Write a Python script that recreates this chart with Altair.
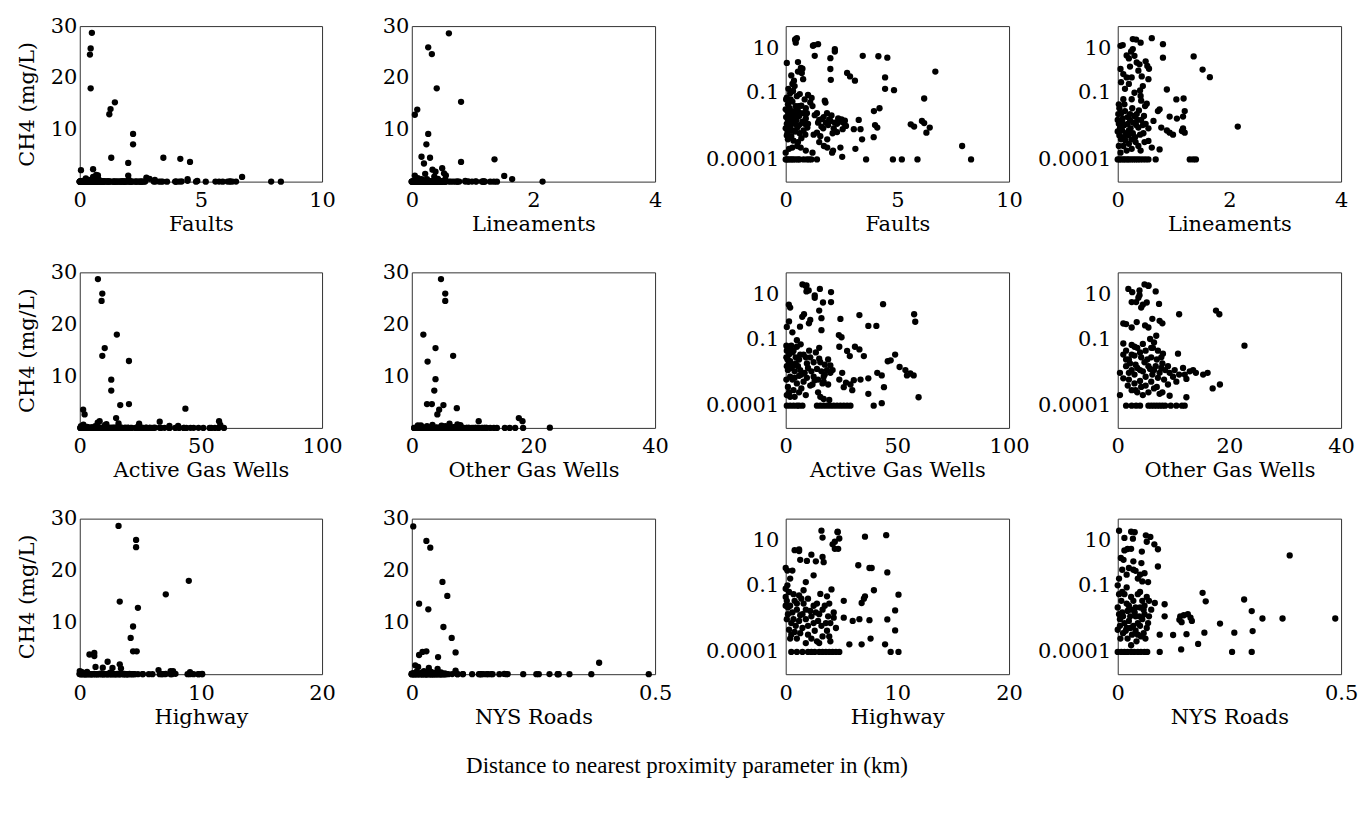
import altair as alt
import pandas as pd

FONT = "DejaVu Serif"
TITLE_FONT = "Liberation Serif"

LIN_Y_DOMAIN = [0, 30]
LIN_Y_TICKS = [10, 20, 30]
LOG_Y_DOMAIN = [0.00001, 100]
LOG_Y_TICKS = [0.0001, 0.1, 10]
Y_TITLE = "CH4 (mg/L)"
MAIN_TITLE = "Distance to nearest proximity parameter in (km)"

# (distance km, CH4 mg/L)
FAULTS = [
    (0.50, 28.7), (0.45, 25.7), (0.42, 24.5), (0.45, 18.0), (1.22, 13.0), (1.27, 14.0), (1.45, 15.3),
    (2.20, 9.2), (2.20, 7.2), (1.30, 4.6), (2.00, 3.6), (3.45, 4.6), (4.15, 4.4), (4.55, 3.8),
    (0.05, 2.2), (0.55, 2.4), (0.68, 1.3), (0.75, 1.2), (2.00, 1.17), (6.70, 0.9),
    (0.72, 0.78), (0.78, 0.41), (0.37, 0.35), (0.30, 0.25), (2.02, 0.38), (2.75, 0.78), (2.88, 0.54),
    (3.10, 0.35), (4.45, 0.49), (4.45, 0.15), (4.85, 0.13), (0.25, 0.6), (0.55, 0.9),
    (0.20, 0.095), (0.22, 0.05), (0.05, 0.06), (1.16, 0.058), (1.10, 0.036), (1.75, 0.044), (1.78, 0.036),
    (6.20, 0.055), (4.20, 0.020), (3.95, 0.015), (0.63, 0.087), (0.70, 0.026), (0.10, 0.030), (0.30, 0.040),
    (0.45, 0.025), (0.55, 0.015), (0.80, 0.012), (0.90, 0.020), (0.00, 0.018), (0.08, 0.015), (0.22, 0.012),
    (0.45, 0.010), (1.30, 0.0098), (0.60, 0.009), (1.70, 0.008), (1.95, 0.0063), (2.00, 0.0054),
    (2.50, 0.0063), (2.60, 0.0043), (2.70, 0.0032), (2.55, 0.0023), (3.27, 0.006), (4.00, 0.0035),
    (4.10, 0.0027), (5.60, 0.0038), (5.75, 0.0030), (6.10, 0.0054), (6.20, 0.0043), (6.45, 0.0027),
    (6.30, 0.0016), (0.00, 0.0025), (0.08, 0.0016), (0.30, 0.0020), (0.52, 0.0027), (0.80, 0.0020),
    (0.97, 0.0027), (1.40, 0.0016), (1.55, 0.0011), (3.05, 0.0023), (3.35, 0.0023), (3.94, 0.0010),
    (0.10, 0.006), (0.25, 0.0045), (0.40, 0.004), (0.60, 0.0035), (0.75, 0.005), (0.05, 0.004),
    (0.20, 0.0028), (1.00, 0.004), (1.60, 0.003), (1.80, 0.0045), (1.90, 0.0035), (2.20, 0.0045),
    (2.30, 0.004), (1.50, 0.006), (1.45, 0.0045), (2.40, 0.005), (0.35, 0.008), (0.15, 0.01), (0.90, 0.007),
    (1.50, 0.0006), (1.86, 0.0008), (3.42, 0.0008), (3.12, 0.0003), (1.71, 0.0004), (1.86, 0.00034),
    (2.08, 0.0002), (2.12, 0.00025), (2.45, 0.00034), (2.53, 0.00013), (0.00, 0.0002), (0.15, 0.0003),
    (0.30, 0.00034), (0.52, 0.0004), (0.67, 0.00034), (0.90, 0.00025), (1.20, 0.0002), (7.90, 0.0004),
    (0.70, 0.0009), (0.10, 0.0008), (0.35, 0.0007), (1.25, 0.0013), (2.10, 0.0015), (2.30, 0.0017),
    (0.02, 0.05), (0.12, 0.012), (0.18, 0.02), (0.28, 0.007), (0.38, 0.015), (0.48, 0.006), (0.58, 0.025),
    (0.65, 0.012), (0.85, 0.004), (0.95, 0.012), (0.02, 0.008), (0.15, 0.002), (0.42, 0.0018),
    (0.62, 0.0015), (0.88, 0.0013), (0.05, 0.0012), (0.25, 0.0011), (0.55, 0.0006), (1.62, 0.0065),
    (1.68, 0.0025), (2.15, 0.0025), (2.35, 0.007), (2.65, 0.0055), (1.85, 0.012), (2.05, 0.0095),
    (1.40, 0.012), (1.20, 0.025), (0.33, 0.12), (0.40, 0.2), (0.12, 0.15), (0.50, 0.07), (0.85, 0.05),
    (1.00, 0.08),
    (0.00, 0.0001), (0.05, 0.0001), (0.12, 0.0001), (0.20, 0.0001), (0.28, 0.0001), (0.35, 0.0001),
    (0.45, 0.0001), (0.55, 0.0001), (0.62, 0.0001), (0.80, 0.0001), (0.95, 0.0001), (1.05, 0.0001),
    (1.15, 0.0001), (1.40, 0.0001), (3.60, 0.0001), (4.80, 0.0001), (5.20, 0.0001), (5.90, 0.0001),
    (8.30, 0.0001),
]

LINEAMENTS = [
    (0.61, 28.6), (0.27, 25.9), (0.33, 24.6), (0.41, 18.0), (0.81, 15.4), (0.05, 12.9), (0.09, 13.9),
    (0.27, 9.2), (0.24, 7.2), (0.16, 4.8), (0.30, 4.6), (0.20, 3.5), (0.81, 3.8), (1.36, 4.3),
    (0.39, 1.9), (0.50, 2.6), (1.52, 1.1), (1.65, 0.5), (0.34, 2.3), (0.53, 1.6),
    (0.37, 0.98), (0.43, 0.54), (0.05, 1.17), (0.10, 0.69), (0.16, 0.49), (0.55, 0.41), (0.25, 0.49),
    (0.88, 0.14), (0.40, 0.126), (0.41, 0.072), (0.42, 0.044), (0.10, 0.051), (0.25, 0.051),
    (1.05, 0.05), (1.18, 0.055), (0.52, 0.032), (0.49, 0.025), (0.75, 0.018), (0.72, 0.015),
    (1.20, 0.015), (0.01, 0.011), (0.22, 0.011), (0.34, 0.011), (0.93, 0.0085), (1.06, 0.0069),
    (1.17, 0.0085), (0.64, 0.0054), (0.00, 0.006), (0.02, 0.004), (0.05, 0.003), (0.08, 0.002),
    (0.12, 0.0035), (0.15, 0.0015), (0.03, 0.0012), (0.10, 0.001), (0.00, 0.0018), (0.06, 0.0008),
    (0.28, 0.0045), (0.37, 0.0027), (0.46, 0.0015), (0.31, 0.001), (0.25, 0.0008), (0.20, 0.002),
    (0.35, 0.006), (0.45, 0.0035), (0.55, 0.0025), (0.78, 0.0027), (0.93, 0.0016), (0.99, 0.0013),
    (0.88, 0.002), (1.17, 0.0025), (1.20, 0.0016), (1.15, 0.0019), (0.55, 0.00068), (0.61, 0.00034),
    (0.75, 0.00028), (0.10, 0.0004), (0.16, 0.00025), (0.25, 0.0003), (0.37, 0.0004), (0.41, 0.00025),
    (0.05, 0.0002), (0.20, 0.0005), (2.15, 0.003), (0.03, 0.02), (0.12, 0.03), (0.18, 0.008),
    (0.02, 0.03), (0.06, 0.012), (0.09, 0.007), (0.13, 0.015), (0.18, 0.004), (0.22, 0.006),
    (0.26, 0.02), (0.30, 0.009), (0.33, 0.0035), (0.38, 0.016), (0.42, 0.006), (0.47, 0.009),
    (0.50, 0.004), (0.04, 0.0025), (0.08, 0.0045), (0.14, 0.0007), (0.19, 0.0012), (0.23, 0.0025),
    (0.27, 0.0015), (0.32, 0.0006), (0.40, 0.0013), (0.48, 0.0006), (0.02, 0.0004), (0.13, 0.15),
    (0.06, 0.3), (0.20, 0.25), (0.30, 0.1), (0.45, 0.2), (0.56, 1.2), (0.22, 1.5),
    (0.00, 0.0001), (0.03, 0.0001), (0.06, 0.0001), (0.10, 0.0001), (0.13, 0.0001), (0.17, 0.0001),
    (0.20, 0.0001), (0.24, 0.0001), (0.28, 0.0001), (0.32, 0.0001), (0.36, 0.0001), (0.40, 0.0001),
    (0.45, 0.0001), (0.50, 0.0001), (0.55, 0.0001), (0.68, 0.0001), (1.29, 0.0001), (1.35, 0.0001),
    (1.40, 0.0001),
]

ACTIVE_WELLS = [
    (7.5, 28.7), (9.3, 25.9), (9.0, 24.5), (15.3, 18.0), (10.3, 15.4), (9.3, 13.9), (20.3, 12.9),
    (13.0, 9.3), (13.0, 7.2), (16.7, 4.4), (20.3, 4.6), (43.6, 3.7), (1.4, 3.5), (2.0, 2.6),
    (15.0, 1.9), (8.2, 1.3), (33.0, 1.2), (57.5, 1.3), (58.0, 0.6),
    (1.5, 0.62), (7.4, 1.0), (11.0, 0.72), (10.4, 0.51), (6.4, 0.36), (16.0, 0.87), (16.0, 0.25),
    (37.0, 0.39), (40.6, 0.39), (23.8, 0.15), (25.0, 0.12), (24.5, 0.8), (5.0, 0.089), (6.7, 0.058),
    (31.0, 0.045), (33.0, 0.034), (24.0, 0.045), (27.5, 0.029), (28.7, 0.017), (35.0, 0.017),
    (49.0, 0.02), (47.0, 0.011), (45.7, 0.01), (15.0, 0.04), (15.0, 0.013),
    (51.0, 0.0055), (53.6, 0.004), (54.3, 0.0023), (55.8, 0.0028), (57.3, 0.0023), (41.0, 0.003),
    (43.0, 0.0023), (37.0, 0.0017), (33.5, 0.0015), (30.5, 0.0014), (26.0, 0.00068), (29.8, 0.0005),
    (25.3, 0.003), (59.5, 0.00024), (44.0, 0.00068), (37.0, 0.00034), (39.4, 0.0001), (43.0, 0.00013),
    (20.0, 0.003), (17.0, 0.0012), (17.0, 0.002), (24.0, 0.0015), (27.0, 0.0011), (29.0, 0.0009),
    (20.0, 0.0065), (21.0, 0.004),
    (0.5, 0.03), (1.5, 0.02), (3.0, 0.025), (4.5, 0.015), (2.0, 0.01), (0.5, 0.006), (1.0, 0.004),
    (2.5, 0.005), (4.0, 0.0035), (5.5, 0.006), (6.5, 0.004), (7.0, 0.0025), (8.5, 0.003), (10.0, 0.005),
    (11.5, 0.0035), (12.5, 0.002), (14.0, 0.0045), (16.0, 0.0035), (17.5, 0.0025), (18.5, 0.004),
    (3.0, 0.0015), (5.0, 0.001), (8.0, 0.0012), (11.0, 0.0008), (13.0, 0.0014), (1.0, 0.0007),
    (3.5, 0.0005), (6.0, 0.0004), (9.0, 0.0003), (0.5, 0.0003), (2.0, 0.00025), (14.5, 0.0004),
    (15.5, 0.00025), (17.0, 0.0002), (19.5, 0.00018), (6.0, 0.012), (8.0, 0.02), (9.5, 0.008),
    (11.0, 0.015), (12.5, 0.009), (2.5, 0.05), (0.8, 0.012),
    (0.3, 0.05), (1.0, 0.035), (2.0, 0.04), (3.5, 0.03), (5.0, 0.045), (1.5, 0.008), (3.0, 0.006),
    (4.5, 0.008), (0.3, 0.015), (6.5, 0.02), (9.0, 0.015), (10.5, 0.03), (13.5, 0.025), (15.5, 0.009),
    (17.5, 0.007), (19.0, 0.012), (2.0, 0.002), (4.0, 0.0018), (6.0, 0.0022), (9.5, 0.0018),
    (12.0, 0.0009), (14.5, 0.0015), (16.5, 0.001), (19.0, 0.0009), (0.3, 0.0015), (7.0, 0.0006),
    (1.5, 0.0004), (4.0, 0.00025), (3.0, 0.2), (0.5, 0.35),
    (0.5, 0.0001), (2.0, 0.0001), (3.5, 0.0001), (5.0, 0.0001), (6.0, 0.0001), (7.5, 0.0001),
    (14.0, 0.0001), (15.5, 0.0001), (17.0, 0.0001), (18.5, 0.0001), (20.0, 0.0001), (21.5, 0.0001),
    (23.0, 0.0001), (24.5, 0.0001), (26.0, 0.0001), (27.5, 0.0001), (29.0, 0.0001),
]

OTHER_WELLS = [
    (4.8, 28.7), (5.5, 25.9), (5.5, 24.5), (1.9, 18.0), (3.9, 15.4), (6.8, 13.9), (2.6, 12.8),
    (3.9, 9.4), (3.7, 7.2), (2.5, 4.6), (3.3, 4.6), (5.2, 4.4), (7.4, 3.8), (4.5, 3.5), (4.2, 2.6),
    (17.6, 1.9), (18.2, 1.3), (11.0, 1.3), (22.7, 0.05),
    (1.0, 0.5), (1.5, 0.47), (2.5, 0.33), (3.4, 0.58), (4.9, 0.41), (6.2, 0.81), (7.5, 0.66),
    (8.0, 0.51), (5.5, 0.33), (6.9, 0.14), (5.8, 0.1), (1.0, 0.063), (2.5, 0.054), (10.8, 0.022),
    (6.3, 0.04), (7.2, 0.03), (8.1, 0.022), (1.5, 0.012), (3.5, 0.04), (4.5, 0.06), (6.5, 0.07),
    (1.0, 0.02), (2.0, 0.012), (3.0, 0.018), (4.0, 0.025), (5.0, 0.03), (6.0, 0.015), (7.0, 0.012),
    (8.0, 0.008), (9.0, 0.006), (1.5, 0.006), (2.5, 0.004), (3.5, 0.005), (4.5, 0.0035), (5.5, 0.006),
    (6.5, 0.004), (7.5, 0.003), (8.5, 0.004), (9.3, 0.003), (9.9, 0.002), (11.7, 0.005), (12.9, 0.0035),
    (14.0, 0.003), (15.3, 0.0025), (16.1, 0.003), (12.0, 0.0025), (12.3, 0.0016), (17.0, 0.0006),
    (18.3, 0.0009), (0.4, 0.003), (1.0, 0.0017), (0.4, 0.0003), (2.0, 0.0015), (3.0, 0.001),
    (4.0, 0.0013), (5.0, 0.0008), (6.0, 0.0012), (7.0, 0.0007), (3.5, 0.0004), (4.5, 0.0003),
    (2.5, 0.0005), (7.5, 0.00034), (9.3, 0.00028), (12.3, 0.00024), (10.5, 0.0012), (11.0, 0.0025),
    (1.5, 0.03), (2.5, 0.02), (3.0, 0.045), (4.2, 0.015), (5.3, 0.012), (6.0, 0.04), (7.8, 0.015),
    (2.2, 0.008), (3.2, 0.007), (4.8, 0.009), (5.8, 0.0045), (6.8, 0.006), (7.8, 0.005), (2.0, 0.003),
    (3.0, 0.0025), (4.0, 0.004), (5.0, 0.002), (6.2, 0.0025), (7.2, 0.0018), (8.3, 0.0015),
    (3.2, 0.0005), (4.2, 0.0007), (5.5, 0.0004), (6.5, 0.0006), (8.0, 0.0004), (9.0, 0.0009),
    (1.8, 0.0008), (10.2, 0.004), (13.5, 0.004),
    (1.5, 0.0001), (2.5, 0.0001), (3.3, 0.0001), (4.0, 0.0001), (5.5, 0.0001), (6.0, 0.0001),
    (6.5, 0.0001), (7.0, 0.0001), (7.5, 0.0001), (8.0, 0.0001), (8.5, 0.0001), (9.5, 0.0001),
    (10.5, 0.0001), (11.5, 0.0001), (12.0, 0.0001),
]

HIGHWAY = [
    (3.2, 28.6), (4.65, 25.9), (4.65, 24.5), (9.0, 18.0), (7.1, 15.4), (3.3, 14.0), (4.8, 12.8),
    (4.4, 9.2), (4.2, 7.0), (4.4, 4.4), (4.7, 4.4), (0.8, 3.8), (1.2, 4.1), (1.2, 3.5), (2.3, 2.4),
    (3.3, 1.9),
    (2.7, 1.2), (1.9, 1.25), (3.4, 1.1), (1.3, 1.4), (6.5, 0.8), (7.5, 0.6), (7.7, 0.6), (9.1, 0.38),
    (0.0, 0.6), (0.15, 0.46), (0.6, 0.46), (2.5, 0.28), (1.8, 0.14), (0.15, 0.1), (4.1, 0.065),
    (3.1, 0.041), (3.7, 0.032), (7.9, 0.06), (10.1, 0.038), (5.2, 0.02), (6.8, 0.016), (7.0, 0.025),
    (7.1, 0.032), (1.6, 0.06), (9.8, 0.0074), (5.2, 0.0035), (6.0, 0.0025), (6.6, 0.003), (7.5, 0.0027),
    (9.1, 0.0029), (9.8, 0.00093), (5.7, 0.00022), (6.8, 0.00022), (7.6, 0.0004), (8.9, 0.00022),
    (9.4, 0.0001), (10.1, 0.0001), (4.0, 0.0003),
    (0.0, 0.03), (0.3, 0.05), (0.8, 0.02), (1.2, 0.035), (2.0, 0.025), (2.8, 0.015), (3.5, 0.012),
    (0.2, 0.01), (0.6, 0.006), (1.0, 0.008), (1.5, 0.005), (2.2, 0.007), (3.0, 0.005), (3.8, 0.004),
    (4.3, 0.006), (0.1, 0.003), (0.5, 0.002), (1.2, 0.0025), (1.8, 0.003), (2.5, 0.002), (3.2, 0.0015),
    (4.0, 0.002), (0.3, 0.001), (0.8, 0.0008), (1.5, 0.0012), (2.0, 0.0006), (2.6, 0.0009),
    (3.3, 0.0005), (1.0, 0.0004), (2.8, 0.0003), (1.8, 0.00025), (0.5, 0.0006), (3.7, 0.0009),
    (4.5, 0.0012), (0.0, 0.012), (2.5, 0.012), (1.6, 0.015),
    (0.1, 0.02), (0.4, 0.012), (0.7, 0.04), (1.0, 0.015), (1.4, 0.025), (1.8, 0.008), (2.3, 0.004),
    (2.7, 0.006), (3.3, 0.008), (3.9, 0.015), (0.2, 0.005), (0.7, 0.003), (1.3, 0.0045), (2.0, 0.0015),
    (2.9, 0.0025), (3.6, 0.002), (4.3, 0.0035), (0.4, 0.0004), (1.3, 0.0007), (2.3, 0.0004),
    (3.0, 0.00025), (3.9, 0.0005), (0.9, 0.0015), (0.0, 0.07), (0.4, 0.2),
    (0.5, 0.0001), (1.0, 0.0001), (1.5, 0.0001), (2.0, 0.0001), (2.3, 0.0001), (2.6, 0.0001),
    (3.0, 0.0001), (3.3, 0.0001), (3.6, 0.0001), (3.9, 0.0001), (4.2, 0.0001), (4.5, 0.0001),
    (4.8, 0.0001),
]

NYS_ROADS = [
    (0.003, 28.5), (0.030, 25.7), (0.038, 24.4), (0.063, 17.8), (0.073, 15.1), (0.015, 13.6),
    (0.034, 12.5), (0.065, 9.1), (0.082, 7.0), (0.090, 4.2), (0.015, 3.7), (0.022, 4.3), (0.030, 4.4),
    (0.054, 3.3), (0.007, 1.7), (0.385, 2.2),
    (0.013, 1.4), (0.035, 1.2), (0.053, 1.0), (0.090, 0.7), (0.068, 0.14), (0.010, 0.5), (0.025, 0.6),
    (0.040, 0.45), (0.050, 0.3), (0.060, 0.35), (0.045, 0.2), (0.055, 0.15),
    (0.190, 0.046), (0.197, 0.019), (0.283, 0.023), (0.300, 0.0069), (0.324, 0.0032), (0.369, 0.0032),
    (0.487, 0.0032), (0.229, 0.0019), (0.261, 0.00074), (0.302, 0.00087), (0.256, 0.0001),
    (0.300, 0.0001), (0.180, 0.00023), (0.142, 0.00013), (0.124, 0.00058), (0.154, 0.00063),
    (0.194, 0.00074), (0.094, 0.0006), (0.094, 0.0001), (0.140, 0.004), (0.148, 0.0045),
    (0.157, 0.005), (0.163, 0.0035), (0.166, 0.0025), (0.138, 0.0028), (0.143, 0.0022),
    (0.083, 0.016), (0.105, 0.014), (0.105, 0.004),
    (0.000, 0.1), (0.010, 0.05), (0.020, 0.08), (0.030, 0.03), (0.045, 0.04), (0.055, 0.02),
    (0.065, 0.03), (0.000, 0.01), (0.010, 0.006), (0.020, 0.015), (0.030, 0.008), (0.040, 0.004),
    (0.050, 0.01), (0.060, 0.005), (0.070, 0.004), (0.075, 0.008), (0.005, 0.003), (0.015, 0.002),
    (0.025, 0.0025), (0.035, 0.0015), (0.045, 0.002), (0.055, 0.003), (0.065, 0.0012), (0.000, 0.001),
    (0.012, 0.0007), (0.022, 0.0004), (0.032, 0.0006), (0.042, 0.0003), (0.052, 0.0005),
    (0.062, 0.0004), (0.020, 0.0012),
    (0.003, 0.04), (0.008, 0.02), (0.015, 0.04), (0.025, 0.012), (0.035, 0.02), (0.040, 0.01),
    (0.050, 0.05), (0.060, 0.012), (0.070, 0.02), (0.003, 0.005), (0.012, 0.004), (0.022, 0.007),
    (0.028, 0.004), (0.038, 0.006), (0.048, 0.004), (0.058, 0.008), (0.068, 0.002), (0.005, 0.0015),
    (0.018, 0.0009), (0.028, 0.0012), (0.040, 0.0009), (0.050, 0.0015), (0.058, 0.0007),
    (0.006, 0.0004), (0.030, 0.0002), (0.045, 0.0006), (0.003, 0.2), (0.020, 0.3), (0.035, 0.5),
    (0.000, 0.0001), (0.008, 0.0001), (0.015, 0.0001), (0.022, 0.0001), (0.030, 0.0001),
    (0.037, 0.0001), (0.045, 0.0001), (0.052, 0.0001), (0.060, 0.0001), (0.066, 0.0001),
]

# name, data, x domain, x ticks
PARAMS = [
    ("Faults", FAULTS, [0, 10], [0, 5, 10]),
    ("Lineaments", LINEAMENTS, [0, 4], [0, 2, 4]),
    ("Active Gas Wells", ACTIVE_WELLS, [0, 100], [0, 50, 100]),
    ("Other Gas Wells", OTHER_WELLS, [0, 40], [0, 20, 40]),
    ("Highway", HIGHWAY, [0, 20], [0, 10, 20]),
    ("NYS Roads", NYS_ROADS, [0, 0.5], [0, 0.5]),
]

PANEL_H = 156
LIN_W = [243, 244]
LOG_W = [224, 224]
GAPS = [90, 131, 109]
LABEL_EXPR = "format(datum.value, '~r')"


def panel(name, pts, xdom, xticks, log, width, show_ytitle):
    df = pd.DataFrame(pts, columns=["d", "ch4"])
    if log:
        yscale = alt.Scale(type="log", domain=LOG_Y_DOMAIN, nice=False)
        yaxis = alt.Axis(values=LOG_Y_TICKS, labelExpr=LABEL_EXPR, title=None, labelPadding=7)
    else:
        yscale = alt.Scale(domain=LIN_Y_DOMAIN, nice=False, zero=True)
        yaxis = alt.Axis(values=LIN_Y_TICKS, labelExpr=LABEL_EXPR,
                         title=Y_TITLE if show_ytitle else None, labelPadding=3, titlePadding=13)
    return alt.Chart(df).mark_circle(size=40, color="black", opacity=1).encode(
        x=alt.X("d:Q", scale=alt.Scale(domain=xdom, nice=False, zero=False),
                axis=alt.Axis(values=xticks, labelExpr=LABEL_EXPR, title=name, labelFlush=False,
                              labelOverlap=False, labelPadding=8, titlePadding=3)),
        y=alt.Y("ch4:Q", scale=yscale, axis=yaxis),
    ).properties(width=width, height=PANEL_H)


def spacer(width):
    return alt.Chart(pd.DataFrame({"v": [0]})).mark_point(opacity=0).properties(
        width=width, height=PANEL_H, view=alt.ViewBackground(stroke="transparent"))


cells = []
for r in range(3):
    a = PARAMS[2 * r]
    b = PARAMS[2 * r + 1]
    cells.append(panel(a[0], a[1], a[2], a[3], False, LIN_W[0], True))
    cells.append(spacer(GAPS[0]))
    cells.append(panel(b[0], b[1], b[2], b[3], False, LIN_W[1], False))
    cells.append(spacer(GAPS[1]))
    cells.append(panel(a[0], a[1], a[2], a[3], True, LOG_W[0], False))
    cells.append(spacer(GAPS[2]))
    cells.append(panel(b[0], b[1], b[2], b[3], True, LOG_W[1], False))

chart = alt.concat(
    *cells,
    columns=7,
    spacing={"row": 91, "column": 0},
    bounds="flush",
    align="each",
    padding={"left": 15, "top": 13, "right": 5, "bottom": 10},
    background="white",
    title=alt.TitleParams(
        text=MAIN_TITLE, orient="bottom", anchor="middle", font=TITLE_FONT,
        fontSize=23, fontWeight="normal", color="black", offset=28,
    ),
).configure_view(
    stroke="#333333", strokeWidth=1
).configure_axis(
    labelFont=FONT, labelFontSize=21, labelColor="black",
    titleFont=FONT, titleFontSize=21, titleFontWeight="normal", titleColor="black",
    grid=False, domain=False, ticks=False, tickSize=0,
)

chart.save("out.html", embed_options={"renderer": "svg", "actions": False})
